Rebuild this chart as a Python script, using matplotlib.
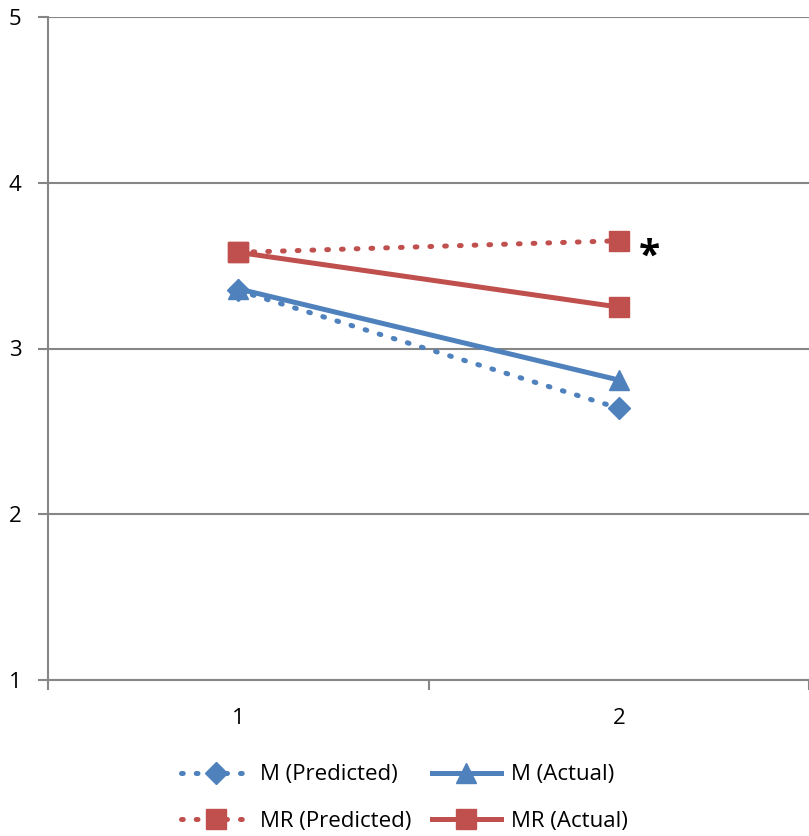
import matplotlib
matplotlib.use("Agg")
import matplotlib.pyplot as plt

categories = [1, 2]
m_predicted = [3.35, 2.64]
m_actual = [3.36, 2.81]
mr_predicted = [3.58, 3.65]
mr_actual = [3.58, 3.25]
y_ticks = [1, 2, 3, 4, 5]

blue = "#4F81BD"
red = "#C0504D"
grid = "#868686"

plt.rcParams['font.family'] = ['Open Sans', 'DejaVu Sans']

fig = plt.figure(figsize=(8.09, 8.36), dpi=100)
ax = fig.add_axes([48/809, 1-680/836, 1-48/809, (680-17)/836])

lw = 3.6
dots = (0, (0.35, 2.6))
h1, = ax.plot(categories, m_predicted, color=blue, lw=lw, ls=dots, dash_capstyle='round',
              marker='D', ms=11, mfc=blue, mec=blue, label='M (Predicted)', zorder=3)
h2, = ax.plot(categories, m_actual, color=blue, lw=lw, marker='^', ms=15, mfc=blue, mec=blue,
              label='M (Actual)', zorder=3)
h3, = ax.plot(categories, mr_predicted, color=red, lw=lw, ls=dots, dash_capstyle='round',
              marker='s', ms=14, mfc=red, mec=red, label='MR (Predicted)', zorder=3)
h4, = ax.plot(categories, mr_actual, color=red, lw=lw, marker='s', ms=14, mfc=red, mec=red,
              label='MR (Actual)', zorder=3)

ax.text(2.08, 3.55, '*', fontsize=28, fontweight='bold', ha='center', va='center', color='black')

ax.set_xlim(0.5, 2.5)
ax.set_ylim(1, 5)
ax.set_yticks(y_ticks)
ax.set_yticklabels([str(v) for v in y_ticks], fontsize=16)
ax.set_xticks([0.5, 1.5, 2.5])
ax.set_xticklabels([])
ax.set_xticks(categories, minor=True)
ax.set_xticklabels([str(c) for c in categories], minor=True, fontsize=16)
ax.tick_params(axis='x', which='minor', length=0, pad=20)
ax.tick_params(axis='x', which='major', length=7, width=1.5, color=grid, direction='out')
ax.tick_params(axis='y', length=7, width=1.5, color=grid, direction='out', pad=12)
for v in y_ticks:
    ax.axhline(v, color=grid, lw=1.5, zorder=1)
for s in ['top', 'right']:
    ax.spines[s].set_visible(False)
for s in ['left', 'bottom']:
    ax.spines[s].set_color(grid)
    ax.spines[s].set_linewidth(1.5)

fig.legend([h1, h3, h2, h4], ['M (Predicted)', 'MR (Predicted)', 'M (Actual)', 'MR (Actual)'],
           loc='lower center', bbox_to_anchor=(0.5, -0.019), ncol=2,
           frameon=False, fontsize=16, handlelength=3.1, columnspacing=0.9,
           handletextpad=0.45, labelspacing=1.15)

fig.savefig("out.png", dpi=100)
